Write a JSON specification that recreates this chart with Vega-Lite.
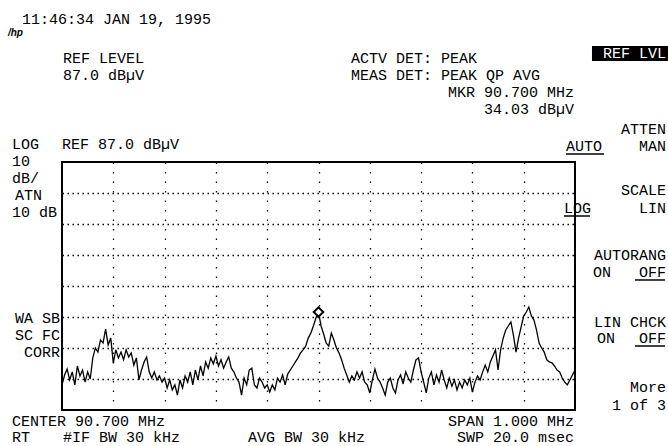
{
  "$schema": "https://vega.github.io/schema/vega-lite/v6.json",
  "autosize": "none",
  "width": 513,
  "height": 248,
  "padding": {"left": 62, "top": 162, "right": 93, "bottom": 36},
  "background": "white",
  "config": {"view": {"stroke": "black", "strokeWidth": 2}},
  "datasets": {
    "trace": [
      {"f":90.200,"a":15},{"f":90.205,"a":18.3},{"f":90.210,"a":20.2},{"f":90.215,"a":16.7},{"f":90.220,"a":19.3},
      {"f":90.225,"a":15.1},{"f":90.230,"a":21.2},{"f":90.235,"a":18},{"f":90.240,"a":19.9},{"f":90.245,"a":16},
      {"f":90.250,"a":19.3},{"f":90.255,"a":17},{"f":90.260,"a":23.8},{"f":90.265,"a":27},{"f":90.270,"a":25.7},
      {"f":90.275,"a":29.6},{"f":90.280,"a":28.6},{"f":90.285,"a":33.1},{"f":90.290,"a":28},{"f":90.295,"a":30.2},
      {"f":90.300,"a":22.2},{"f":90.305,"a":26.4},{"f":90.310,"a":23.8},{"f":90.315,"a":25.7},{"f":90.320,"a":23.2},
      {"f":90.325,"a":26.4},{"f":90.330,"a":24.1},{"f":90.335,"a":25.4},{"f":90.340,"a":21.5},{"f":90.345,"a":23.8},
      {"f":90.350,"a":16.7},{"f":90.355,"a":19.9},{"f":90.360,"a":22.5},{"f":90.365,"a":24.1},{"f":90.370,"a":19.3},
      {"f":90.375,"a":17.3},{"f":90.380,"a":19.3},{"f":90.385,"a":16.7},{"f":90.390,"a":18},{"f":90.395,"a":16},
      {"f":90.400,"a":17.3},{"f":90.405,"a":14.1},{"f":90.410,"a":16.7},{"f":90.415,"a":13.5},{"f":90.420,"a":15.1},
      {"f":90.425,"a":11.8},{"f":90.430,"a":16.7},{"f":90.435,"a":14.1},{"f":90.440,"a":18},{"f":90.445,"a":16},
      {"f":90.450,"a":19.3},{"f":90.455,"a":15.1},{"f":90.460,"a":19.9},{"f":90.465,"a":16.7},{"f":90.470,"a":21.2},
      {"f":90.475,"a":18},{"f":90.480,"a":22.5},{"f":90.485,"a":20.5},{"f":90.490,"a":23.8},{"f":90.495,"a":21.9},
      {"f":90.500,"a":24.4},{"f":90.505,"a":21.2},{"f":90.510,"a":23.2},{"f":90.515,"a":20.5},{"f":90.520,"a":22.5},
      {"f":90.525,"a":24.1},{"f":90.530,"a":20.5},{"f":90.535,"a":19.3},{"f":90.540,"a":17.3},{"f":90.545,"a":16},
      {"f":90.550,"a":11.8},{"f":90.555,"a":17.3},{"f":90.560,"a":15.1},{"f":90.565,"a":19.9},{"f":90.570,"a":20.5},
      {"f":90.575,"a":15.1},{"f":90.580,"a":14.1},{"f":90.585,"a":17.3},{"f":90.590,"a":16},{"f":90.595,"a":14.1},
      {"f":90.600,"a":15.1},{"f":90.605,"a":12.8},{"f":90.610,"a":15.1},{"f":90.615,"a":13.5},{"f":90.620,"a":17.3},
      {"f":90.625,"a":16},{"f":90.630,"a":18.3},{"f":90.635,"a":15.1},{"f":90.640,"a":18.6},{"f":90.645,"a":19.9},
      {"f":90.650,"a":21.2},{"f":90.655,"a":22.5},{"f":90.660,"a":23.8},{"f":90.665,"a":25.4},{"f":90.670,"a":26.4},
      {"f":90.675,"a":27.6},{"f":90.680,"a":30.2},{"f":90.685,"a":31.8},{"f":90.690,"a":34.1},{"f":90.695,"a":36.7},
      {"f":90.700,"a":38.6},{"f":90.705,"a":34.1},{"f":90.710,"a":31.5},{"f":90.715,"a":28.6},{"f":90.720,"a":27.6},
      {"f":90.725,"a":31.8},{"f":90.730,"a":29.6},{"f":90.735,"a":27},{"f":90.740,"a":25.4},{"f":90.745,"a":23.2},
      {"f":90.750,"a":20.5},{"f":90.755,"a":18.3},{"f":90.760,"a":16},{"f":90.765,"a":18},{"f":90.770,"a":16.7},
      {"f":90.775,"a":19.3},{"f":90.780,"a":17.3},{"f":90.785,"a":19.3},{"f":90.790,"a":16},{"f":90.795,"a":15.1},
      {"f":90.800,"a":12.5},{"f":90.805,"a":16.7},{"f":90.810,"a":20.2},{"f":90.815,"a":17.3},{"f":90.820,"a":16},
      {"f":90.825,"a":14.1},{"f":90.830,"a":11.8},{"f":90.835,"a":16},{"f":90.840,"a":17.3},{"f":90.845,"a":14.1},
      {"f":90.850,"a":12.5},{"f":90.855,"a":16.7},{"f":90.860,"a":18.3},{"f":90.865,"a":15.4},{"f":90.870,"a":19.3},
      {"f":90.875,"a":17.3},{"f":90.880,"a":16},{"f":90.885,"a":19.9},{"f":90.890,"a":23.2},{"f":90.895,"a":23.8},
      {"f":90.900,"a":19.3},{"f":90.905,"a":16},{"f":90.910,"a":12.5},{"f":90.915,"a":17.3},{"f":90.920,"a":19.3},
      {"f":90.925,"a":15.1},{"f":90.930,"a":18.3},{"f":90.935,"a":16},{"f":90.940,"a":19.9},{"f":90.945,"a":16.7},
      {"f":90.950,"a":14.1},{"f":90.955,"a":17.3},{"f":90.960,"a":14.7},{"f":90.965,"a":16.7},{"f":90.970,"a":13.5},
      {"f":90.975,"a":16},{"f":90.980,"a":14.1},{"f":90.985,"a":16.7},{"f":90.990,"a":15.1},{"f":90.995,"a":17.3},
      {"f":91.000,"a":12.8},{"f":91.005,"a":16},{"f":91.010,"a":18},{"f":91.015,"a":16.7},{"f":91.020,"a":19.3},
      {"f":91.025,"a":21.5},{"f":91.030,"a":19.3},{"f":91.035,"a":22.5},{"f":91.040,"a":24.4},{"f":91.045,"a":26.4},
      {"f":91.050,"a":19.9},{"f":91.055,"a":26.4},{"f":91.060,"a":30.2},{"f":91.065,"a":32.8},{"f":91.070,"a":34.1},
      {"f":91.075,"a":35.4},{"f":91.080,"a":31.1},{"f":91.085,"a":25.7},{"f":91.090,"a":30.2},{"f":91.095,"a":33.8},
      {"f":91.100,"a":37.3},{"f":91.105,"a":38.6},{"f":91.110,"a":40.2},{"f":91.115,"a":37.3},{"f":91.120,"a":36},
      {"f":91.125,"a":32.8},{"f":91.130,"a":28.6},{"f":91.135,"a":27},{"f":91.140,"a":25.7},{"f":91.145,"a":23.2},
      {"f":91.150,"a":22.5},{"f":91.155,"a":22.2},{"f":91.160,"a":21.2},{"f":91.165,"a":19.9},{"f":91.170,"a":19.3},
      {"f":91.175,"a":17.3},{"f":91.180,"a":16},{"f":91.185,"a":15.1},{"f":91.190,"a":16.7},{"f":91.195,"a":18.3},
      {"f":91.200,"a":19.9}
    ],
    "leftText": [
      {"t":"11:46:34 JAN 19, 1995","f":90.1220,"a":131.52},
      {"t":"REF LEVEL","f":90.2019,"a":118.94},
      {"t":"87.0 dBµV","f":90.2019,"a":113.45},
      {"t":"ACTV DET: PEAK","f":90.7634,"a":118.94},
      {"t":"MEAS DET: PEAK QP AVG","f":90.7634,"a":113.45},
      {"t":"AUTO","f":91.1825,"a":90.55},
      {"t":"LOG","f":91.1786,"a":70.55},
      {"t":"LOG","f":90.1025,"a":91.19},
      {"t":"REF 87.0 dBµV","f":90.2,"a":91.19},
      {"t":"10","f":90.1025,"a":85.71},
      {"t":"dB/","f":90.1025,"a":80.23},
      {"t":"ATN","f":90.1084,"a":74.74},
      {"t":"10 dB","f":90.1025,"a":69.26},
      {"t":"CENTER 90.700 MHz","f":90.1025,"a":1.84},
      {"t":"RT","f":90.1025,"a":-3.32},
      {"t":"#IF BW 30 kHz","f":90.2019,"a":-3.32},
      {"t":"AVG BW 30 kHz","f":90.5626,"a":-3.32},
      {"t":"ON","f":91.2351,"a":49.90},
      {"t":"ON","f":91.2429,"a":28.61}
    ],
    "rightText": [
      {"t":"MKR 90.700 MHz","f":91.1981,"a":107.97},
      {"t":"34.03 dBµV","f":91.1981,"a":102.48},
      {"t":"ATTEN","f":91.3774,"a":96.03},
      {"t":"MAN","f":91.3774,"a":90.55},
      {"t":"SCALE","f":91.3774,"a":76.35},
      {"t":"LIN","f":91.3774,"a":70.55},
      {"t":"AUTORANG","f":91.3774,"a":55.39},
      {"t":"OFF","f":91.3774,"a":49.90},
      {"t":"LIN CHCK","f":91.3774,"a":33.77},
      {"t":"OFF","f":91.3774,"a":28.61},
      {"t":"More","f":91.3774,"a":12.81},
      {"t":"1 of 3","f":91.3774,"a":7.0},
      {"t":"WA SB","f":90.1961,"a":35.06},
      {"t":"SC FC","f":90.1961,"a":29.58},
      {"t":"CORR","f":90.1961,"a":24.10},
      {"t":"SPAN 1.000 MHz","f":91.1981,"a":1.84},
      {"t":"SWP 20.0 msec","f":91.1981,"a":-3.32}
    ],
    "underlines": [
      {"f":91.1825,"f2":91.2565,"a":89.58},
      {"f":91.1786,"f2":91.2292,"a":69.58},
      {"f":91.3170,"f2":91.3754,"a":48.94},
      {"f":91.3170,"f2":91.3754,"a":27.65}
    ]
  },
  "encoding": {
    "x": {"field": "f", "type": "quantitative",
      "scale": {"domain": [90.2, 91.2], "nice": false, "zero": false},
      "axis": {"values": [90.3, 90.4, 90.5, 90.6, 90.7, 90.8, 90.9, 91.0, 91.1], "grid": true, "gridColor": "black", "gridOpacity": 1, "gridWidth": 1.3, "gridDash": [1.5, 8], "labels": false, "ticks": false, "domain": false, "title": null}},
    "y": {"field": "a", "type": "quantitative",
      "scale": {"domain": [7, 87], "nice": false, "zero": false},
      "axis": {"values": [17, 27, 37, 47, 57, 67, 77], "grid": true, "gridColor": "black", "gridOpacity": 1, "gridWidth": 1.3, "gridDash": [1.5, 3.5], "labels": false, "ticks": false, "domain": false, "title": null}}
  },
  "layer": [
    {"data": {"name": "trace"}, "mark": {"type": "line", "color": "black", "strokeWidth": 1.3, "clip": true}},
    {"data": {"values": [{"f": 90.7, "a": 38.6}]}, "mark": {"type": "point", "shape": "diamond", "filled": true, "fill": "white", "stroke": "black", "strokeWidth": 2, "size": 90, "opacity": 1}},
    {"data": {"values": [{"f": 91.2331, "f2": 91.3813, "a": 124.42, "a2": 119.58}]}, "mark": {"type": "rect", "color": "black"},
      "encoding": {"x2": {"field": "f2"}, "y2": {"field": "a2"}}},
    {"data": {"values": [{"t": "REF LVL", "f": 91.3774, "a": 120.55}]}, "mark": {"type": "text", "align": "right", "baseline": "alphabetic", "font": "Liberation Mono", "fontSize": 15, "color": "white"},
      "encoding": {"text": {"field": "t"}}},
    {"data": {"values": [{"t": "/hp", "f": 90.0947, "a": 127.65}]}, "mark": {"type": "text", "align": "left", "baseline": "alphabetic", "font": "Liberation Sans", "fontSize": 10, "fontStyle": "italic", "fontWeight": "bold", "color": "black"},
      "encoding": {"text": {"field": "t"}}},
    {"data": {"name": "leftText"}, "mark": {"type": "text", "align": "left", "baseline": "alphabetic", "font": "Liberation Mono", "fontSize": 15, "color": "black"},
      "encoding": {"text": {"field": "t"}}},
    {"data": {"name": "rightText"}, "mark": {"type": "text", "align": "right", "baseline": "alphabetic", "font": "Liberation Mono", "fontSize": 15, "color": "black"},
      "encoding": {"text": {"field": "t"}}},
    {"data": {"name": "underlines"}, "mark": {"type": "rule", "color": "black", "strokeWidth": 1.5},
      "encoding": {"x2": {"field": "f2"}}}
  ]
}
